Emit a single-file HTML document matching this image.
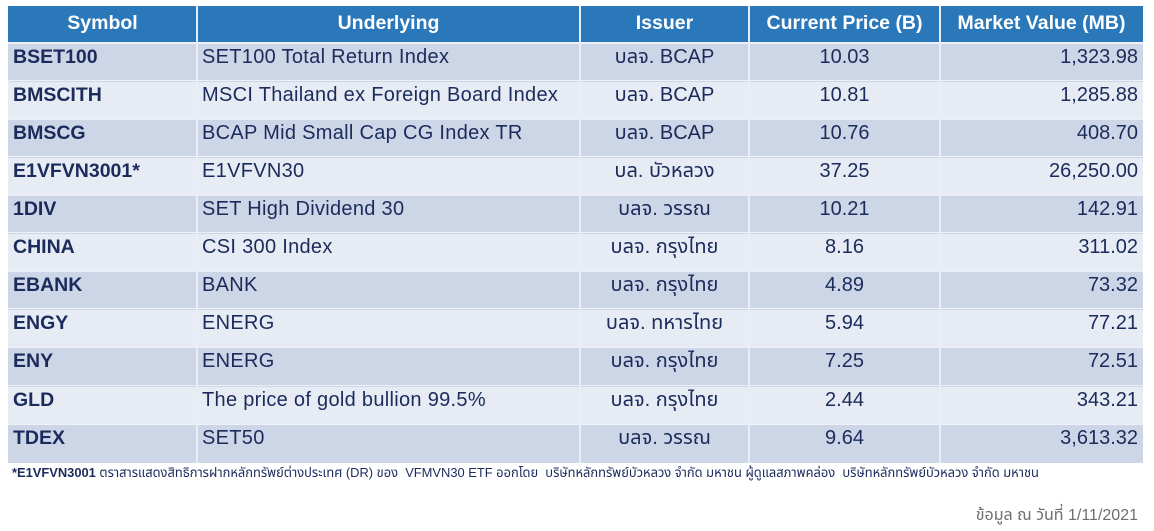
<!DOCTYPE html>
<html>
<head>
<meta charset="utf-8">
<style>
  html,body{margin:0;padding:0;background:#fff;}
  body{width:1154px;height:531px;position:relative;overflow:hidden;
    font-family:"Liberation Sans","Noto Sans Thai","Tahoma","Garuda","Loma","DejaVu Sans",sans-serif;color:#1b2b5c;}
  .hdr{position:absolute;left:8px;top:6px;width:1135px;height:36px;background:#2a78ba;}
  .hc{position:absolute;top:5px;height:36px;line-height:36px;color:#fff;font-weight:bold;font-size:19.5px;text-align:center;white-space:nowrap;}
  .row{position:absolute;left:8px;width:1135px;height:38px;}
  .d{background:#cdd6e6;}
  .l{background:#e7ebf3;}
  .c{position:absolute;top:1px;line-height:24px;font-size:20px;white-space:nowrap;}
  .sym{left:5px;font-weight:bold;font-size:19.5px;}
  .und{left:194px;letter-spacing:0.3px;}
  .iss{left:572px;width:169px;text-align:center;}
  .pr{left:741px;width:191px;text-align:center;}
  .mv{left:932px;width:198px;text-align:right;}
  .vl{position:absolute;top:6px;width:2px;height:457px;background:#e9eef6;}
  .hl{position:absolute;left:8px;width:1135px;height:2px;background:#eef2f8;}
  .foot{position:absolute;left:12px;top:464px;width:1135px;font-size:12.9px;line-height:18px;color:#1b2b5c;white-space:nowrap;overflow:hidden;}
  .src{position:absolute;right:16px;top:505px;font-size:16px;line-height:22px;color:#6e6e6e;white-space:nowrap;}
</style>
</head>
<body>
<div class="hdr"></div>
<div class="hc" style="left:8px;width:189px;">Symbol</div>
<div class="hc" style="left:197px;width:383px;">Underlying</div>
<div class="hc" style="left:580px;width:169px;">Issuer</div>
<div class="hc" style="left:749px;width:191px;">Current Price (B)</div>
<div class="hc" style="left:940px;width:203px;">Market Value (MB)</div>

<div class="row d" style="top:44px;"><div class="c sym">BSET100</div><div class="c und">SET100 Total Return Index</div><div class="c iss">บลจ. BCAP</div><div class="c pr">10.03</div><div class="c mv">1,323.98</div></div>
<div class="row l" style="top:82px;"><div class="c sym">BMSCITH</div><div class="c und">MSCI Thailand ex Foreign Board Index</div><div class="c iss">บลจ. BCAP</div><div class="c pr">10.81</div><div class="c mv">1,285.88</div></div>
<div class="row d" style="top:120px;"><div class="c sym">BMSCG</div><div class="c und">BCAP Mid Small Cap CG Index TR</div><div class="c iss">บลจ. BCAP</div><div class="c pr">10.76</div><div class="c mv">408.70</div></div>
<div class="row l" style="top:158px;"><div class="c sym">E1VFVN3001*</div><div class="c und">E1VFVN30</div><div class="c iss">บล. บัวหลวง</div><div class="c pr">37.25</div><div class="c mv">26,250.00</div></div>
<div class="row d" style="top:196px;"><div class="c sym">1DIV</div><div class="c und">SET High Dividend 30</div><div class="c iss">บลจ. วรรณ</div><div class="c pr">10.21</div><div class="c mv">142.91</div></div>
<div class="row l" style="top:234px;"><div class="c sym">CHINA</div><div class="c und">CSI 300 Index</div><div class="c iss">บลจ. กรุงไทย</div><div class="c pr">8.16</div><div class="c mv">311.02</div></div>
<div class="row d" style="top:272px;"><div class="c sym">EBANK</div><div class="c und">BANK</div><div class="c iss">บลจ. กรุงไทย</div><div class="c pr">4.89</div><div class="c mv">73.32</div></div>
<div class="row l" style="top:310px;"><div class="c sym">ENGY</div><div class="c und">ENERG</div><div class="c iss">บลจ. ทหารไทย</div><div class="c pr">5.94</div><div class="c mv">77.21</div></div>
<div class="row d" style="top:348px;height:39px;"><div class="c sym">ENY</div><div class="c und">ENERG</div><div class="c iss">บลจ. กรุงไทย</div><div class="c pr">7.25</div><div class="c mv">72.51</div></div>
<div class="row l" style="top:387px;"><div class="c sym">GLD</div><div class="c und">The price of gold bullion 99.5%</div><div class="c iss">บลจ. กรุงไทย</div><div class="c pr">2.44</div><div class="c mv">343.21</div></div>
<div class="row d" style="top:425px;"><div class="c sym">TDEX</div><div class="c und">SET50</div><div class="c iss">บลจ. วรรณ</div><div class="c pr">9.64</div><div class="c mv">3,613.32</div></div>

<div class="hl" style="top:42px;"></div>
<div class="hl" style="top:80px;height:1px;"></div>
<div class="hl" style="top:118px;height:1px;"></div>
<div class="hl" style="top:156px;height:1px;"></div>
<div class="hl" style="top:194px;height:1px;"></div>
<div class="hl" style="top:232px;height:1px;"></div>
<div class="hl" style="top:270px;height:1px;"></div>
<div class="hl" style="top:308px;height:1px;"></div>
<div class="hl" style="top:347px;height:1px;"></div>
<div class="hl" style="top:385px;height:1px;"></div>
<div class="hl" style="top:424px;height:1px;"></div>

<div class="vl" style="left:196px;"></div>
<div class="vl" style="left:579px;"></div>
<div class="vl" style="left:748px;"></div>
<div class="vl" style="left:939px;"></div>

<div class="foot"><b>*E1VFVN3001</b> ตราสารแสดงสิทธิการฝากหลักทรัพย์ต่างประเทศ (DR) ของ&nbsp; VFMVN30 ETF ออกโดย&nbsp; บริษัทหลักทรัพย์บัวหลวง จำกัด มหาชน ผู้ดูแลสภาพคล่อง&nbsp; บริษัทหลักทรัพย์บัวหลวง จำกัด มหาชน</div>
<div class="src">ข้อมูล ณ วันที่ 1/11/2021</div>
</body>
</html>
